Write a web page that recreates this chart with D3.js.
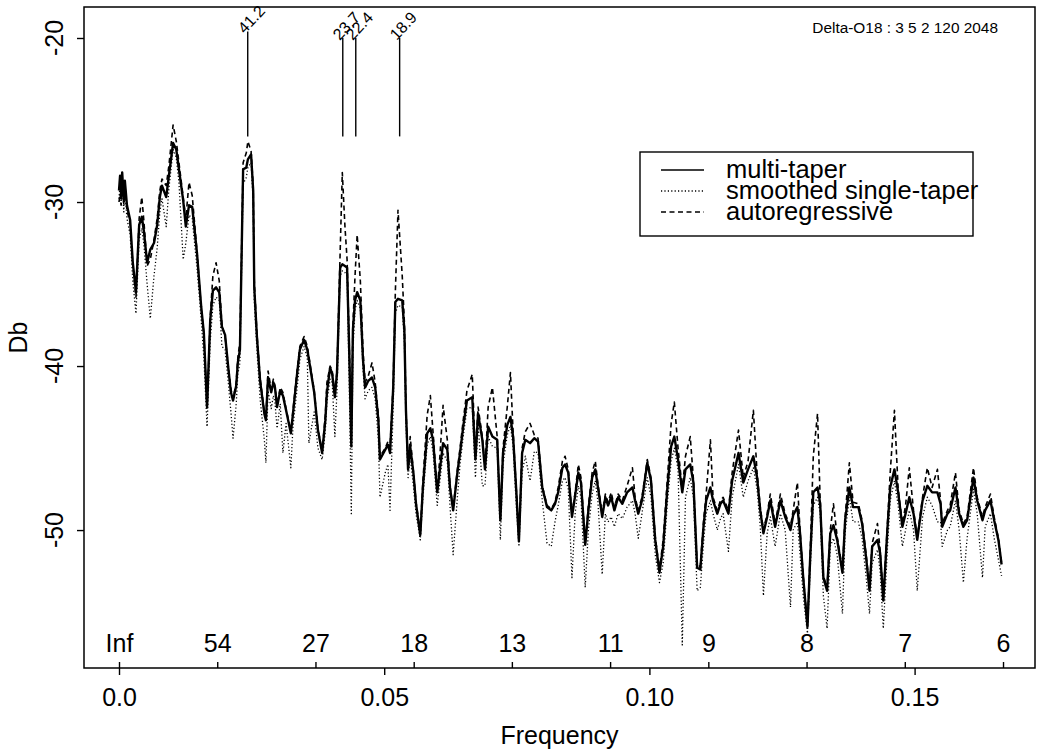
<!DOCTYPE html>
<html>
<head>
<meta charset="utf-8">
<script src="https://cdn.jsdelivr.net/npm/d3@7"></script>
<style>
  body { margin: 0; background: #fff; }
  svg { display: block; font-family: "Liberation Sans", Arial, Helvetica, sans-serif; }
</style>
</head>
<body>
<div id="chart"></div>
<script>
// frequency grid (cycles per unit) shared by the three spectrum estimates
const freq = [0,0.0002,0.0004,0.0006,0.0009,0.0011,0.0015,0.0021,0.0026,0.0032,
  0.0038,0.0043,0.0047,0.0053,0.0059,0.0066,0.0072,0.0077,0.0081,0.0089,
  0.0094,0.0102,0.0108,0.0113,0.0121,0.0126,0.0132,0.0138,0.0147,0.0155,
  0.0160,0.0166,0.0172,0.0177,0.0183,0.0189,0.0194,0.0200,0.0206,0.0211,
  0.0215,0.0221,0.0224,0.0228,0.0234,0.0240,0.0243,0.0249,0.0253,0.0255,
  0.0260,0.0266,0.0274,0.0277,0.0281,0.0287,0.0291,0.0294,0.0298,0.0304,
  0.0309,0.0315,0.0324,0.0328,0.0336,0.0341,0.0349,0.0355,0.0358,0.0368,
  0.0375,0.0383,0.0389,0.0392,0.0398,0.0402,0.0407,0.0411,0.0417,0.0421,
  0.0426,0.0430,0.0434,0.0438,0.0441,0.0445,0.0449,0.0455,0.0460,0.0464,
  0.0470,0.0477,0.0483,0.0489,0.0492,0.0502,0.0507,0.0511,0.0517,0.0521,
  0.0526,0.0534,0.0538,0.0541,0.0545,0.0549,0.0555,0.0560,0.0568,0.0573,
  0.0581,0.0587,0.0592,0.0600,0.0605,0.0611,0.0619,0.0624,0.0630,0.0638,
  0.0643,0.0649,0.0656,0.0666,0.0672,0.0677,0.0685,0.0690,0.0696,0.0704,
  0.0713,0.0719,0.0724,0.0732,0.0738,0.0743,0.0749,0.0754,0.0760,0.0766,
  0.0775,0.0783,0.0790,0.0798,0.0807,0.0815,0.0822,0.0828,0.0836,0.0841,
  0.0847,0.0854,0.0860,0.0866,0.0871,0.0879,0.0885,0.0892,0.0898,0.0903,
  0.0911,0.0917,0.0922,0.0928,0.0934,0.0941,0.0949,0.0958,0.0968,0.0973,
  0.0979,0.0986,0.0996,0.1003,0.1011,0.1019,0.1026,0.1034,0.1041,0.1047,
  0.1054,0.1062,0.1068,0.1077,0.1083,0.1090,0.1096,0.1102,0.1107,0.1115,
  0.1120,0.1128,0.1134,0.1139,0.1149,0.1156,0.1168,0.1177,0.1186,0.1196,
  0.1203,0.1209,0.1215,0.1222,0.1228,0.1237,0.1247,0.1256,0.1266,0.1271,
  0.1279,0.1284,0.1290,0.1298,0.1303,0.1309,0.1317,0.1322,0.1328,0.1335,
  0.1341,0.1347,0.1354,0.1364,0.1369,0.1377,0.1384,0.1394,0.1401,0.1409,
  0.1415,0.1420,0.1430,0.1435,0.1441,0.1449,0.1454,0.1462,0.1469,0.1477,
  0.1483,0.1490,0.1498,0.1505,0.1515,0.1524,0.1533,0.1543,0.1549,0.1552,
  0.1562,0.1567,0.1577,0.1584,0.1592,0.1599,0.1611,0.1618,0.1628,0.1633,
  0.1643,0.1650,0.1658,0.1664];

// multi-taper estimate (Db)
const mtDb = [-29.3,-28.4,-29.6,-28.2,-29.9,-28.7,-30.2,-31.1,-33.7,-35.5,
  -31.4,-30.9,-31.8,-33.7,-32.9,-32.5,-31.4,-29.7,-29.0,-29.7,
  -28.4,-26.4,-26.8,-28.0,-29.9,-31.5,-30.2,-30.3,-33.1,-36.4,
  -38.0,-42.5,-37.2,-35.4,-35.2,-35.5,-37.6,-38.1,-40.1,-41.6,
  -42.1,-41.2,-39.8,-39.0,-28.0,-27.9,-27.4,-27.1,-29.3,-35.2,
  -38.2,-40.9,-42.9,-43.3,-40.7,-41.6,-41.0,-41.3,-42.5,-41.5,
  -41.8,-42.7,-44.1,-42.9,-40.4,-39.0,-38.4,-39.0,-39.6,-41.6,
  -43.9,-45.3,-43.3,-41.6,-40.1,-40.5,-41.9,-40.4,-34.0,-33.8,
  -33.9,-34.0,-39.0,-44.9,-37.8,-36.0,-35.5,-36.0,-39.6,-41.3,
  -40.9,-40.7,-41.3,-43.3,-45.7,-45.1,-44.8,-45.3,-41.3,-36.1,
  -35.9,-36.0,-37.8,-42.7,-46.3,-44.9,-46.5,-48.4,-50.3,-47.4,
  -44.1,-43.8,-44.5,-47.7,-46.3,-44.7,-45.1,-47.4,-48.8,-46.5,
  -45.3,-43.7,-42.1,-41.9,-45.7,-42.9,-44.5,-46.3,-43.7,-44.3,
  -44.5,-49.4,-45.3,-43.6,-43.1,-44.3,-47.6,-50.7,-45.3,-44.5,
  -44.7,-44.4,-44.6,-47.4,-48.6,-48.8,-48.4,-47.7,-46.2,-46.0,
  -46.5,-49.2,-47.9,-46.5,-47.1,-50.9,-48.8,-46.8,-46.3,-47.4,
  -49.2,-48.0,-48.5,-48.0,-48.8,-48.0,-48.4,-47.7,-47.4,-48.2,
  -49.0,-48.2,-45.9,-47.0,-50.6,-52.6,-51.0,-47.4,-44.9,-44.3,
  -45.7,-47.7,-46.3,-46.0,-47.1,-52.3,-52.4,-49.8,-48.2,-47.4,
  -48.2,-49.0,-48.4,-48.2,-49.0,-47.0,-45.3,-47.1,-46.3,-45.5,
  -46.8,-48.8,-50.2,-49.2,-48.2,-49.8,-48.2,-49.2,-50.0,-49.1,
  -48.6,-50.2,-52.9,-55.9,-51.8,-47.7,-47.4,-48.4,-52.9,-53.7,
  -50.2,-49.7,-50.6,-52.6,-49.4,-47.4,-48.6,-48.6,-49.6,-51.8,
  -53.7,-51.0,-50.6,-51.4,-54.3,-49.8,-47.4,-46.3,-47.7,-49.8,
  -49.0,-48.0,-49.0,-50.6,-48.2,-47.3,-47.7,-47.7,-48.4,-49.8,
  -49.0,-48.8,-47.4,-49.0,-49.8,-49.4,-46.8,-48.2,-49.4,-48.8,
  -48.2,-49.4,-50.6,-52.1];

// smoothed single-taper estimate (Db)
const stDb = [-29.8,-28.9,-30.2,-28.8,-30.6,-29.4,-31.0,-32.0,-34.8,-36.8,
  -32.3,-31.6,-32.6,-35.0,-37.1,-34.5,-32.8,-30.6,-29.8,-31.5,
  -29.2,-26.8,-27.3,-28.8,-33.5,-32.5,-30.8,-31.0,-34.0,-37.2,
  -39.5,-43.7,-38.5,-36.3,-35.8,-36.0,-38.8,-39.0,-41.0,-42.8,
  -44.4,-42.3,-40.5,-39.8,-28.9,-28.5,-27.9,-27.6,-30.0,-36.0,
  -39.0,-42.0,-44.5,-45.9,-41.5,-42.6,-41.8,-42.2,-43.8,-42.3,
  -45.3,-43.5,-46.2,-43.7,-41.3,-39.6,-38.8,-39.5,-44.7,-42.8,
  -45.0,-45.7,-44.0,-42.2,-40.8,-41.0,-44.3,-41.5,-34.5,-34.2,
  -34.3,-34.5,-41.0,-49.0,-39.0,-36.6,-36.0,-36.5,-40.2,-42.0,
  -41.5,-41.3,-42.0,-44.5,-48.0,-46.5,-46.0,-48.8,-42.5,-36.8,
  -36.3,-36.4,-38.5,-43.5,-46.8,-45.5,-47.3,-49.0,-50.6,-48.0,
  -44.8,-44.3,-45.2,-48.5,-47.0,-45.3,-45.8,-48.5,-51.5,-48.0,
  -46.0,-44.3,-42.6,-42.5,-46.8,-43.5,-47.3,-47.3,-44.3,-44.9,
  -45.0,-50.6,-46.0,-44.2,-43.6,-44.9,-48.5,-51.0,-46.5,-45.5,
  -47.0,-45.2,-45.3,-48.2,-50.8,-51.0,-49.5,-48.5,-47.0,-46.8,
  -47.5,-52.9,-49.0,-47.3,-48.0,-53.5,-50.0,-47.8,-47.0,-48.3,
  -52.7,-49.0,-49.5,-49.2,-49.8,-49.0,-49.3,-48.6,-48.2,-49.0,
  -50.5,-49.0,-46.8,-48.0,-51.5,-53.2,-52.0,-48.3,-45.8,-45.0,
  -46.3,-57.0,-48.0,-46.8,-48.0,-53.7,-53.5,-50.8,-49.0,-48.2,
  -49.0,-50.0,-49.3,-49.0,-51.3,-48.0,-46.0,-48.0,-47.0,-46.2,
  -47.5,-49.8,-54.0,-50.2,-49.2,-51.0,-49.0,-50.0,-54.7,-50.0,
  -49.5,-51.5,-54.0,-56.3,-52.5,-48.5,-48.0,-49.0,-54.0,-56.0,
  -51.0,-50.5,-51.5,-55.1,-50.2,-48.0,-49.5,-49.5,-50.5,-53.0,
  -55.1,-52.0,-51.2,-52.5,-56.0,-51.0,-48.2,-47.0,-48.5,-51.0,
  -50.0,-48.8,-50.0,-53.7,-49.2,-48.0,-48.5,-49.5,-49.5,-51.0,
  -50.0,-49.8,-48.2,-50.0,-53.2,-50.5,-47.5,-49.0,-52.9,-49.8,
  -49.0,-50.5,-51.8,-52.8];

// autoregressive estimate (Db)
const arDb = [-30.0,-29.5,-30.2,-28.6,-30.1,-28.9,-30.5,-31.3,-33.8,-35.8,
  -31.0,-29.7,-31.2,-33.9,-33.5,-32.3,-31.0,-29.3,-28.6,-29.0,
  -27.8,-25.3,-26.3,-27.6,-29.7,-31.0,-28.8,-29.6,-33.0,-36.5,
  -38.0,-42.7,-37.0,-34.5,-33.7,-34.8,-37.5,-38.2,-40.0,-41.4,
  -42.0,-41.0,-39.5,-38.5,-27.6,-27.0,-26.3,-26.9,-29.0,-34.8,
  -38.0,-40.7,-42.8,-43.2,-40.3,-41.4,-40.8,-41.2,-42.4,-41.3,
  -41.6,-42.6,-44.0,-42.7,-40.2,-38.8,-38.2,-38.8,-39.4,-41.5,
  -43.8,-45.2,-43.0,-41.0,-40.0,-40.3,-41.8,-40.3,-33.0,-28.2,
  -31.5,-33.5,-38.5,-44.5,-37.5,-34.5,-32.0,-34.8,-39.0,-41.0,
  -40.6,-39.8,-41.0,-43.0,-45.5,-45.0,-44.6,-45.0,-41.0,-35.5,
  -30.5,-34.5,-37.3,-42.5,-46.2,-44.3,-46.4,-48.3,-50.2,-47.0,
  -43.0,-41.8,-44.0,-47.6,-45.5,-42.4,-44.5,-47.3,-48.7,-46.3,
  -45.0,-43.3,-41.5,-40.5,-45.5,-42.5,-44.3,-46.2,-42.5,-41.3,
  -44.3,-49.3,-45.0,-42.5,-40.4,-44.0,-47.5,-50.6,-45.0,-44.0,
  -43.5,-44.2,-44.4,-47.3,-48.5,-48.7,-48.3,-47.4,-45.8,-45.5,
  -46.3,-49.0,-47.7,-46.0,-46.8,-50.8,-48.5,-46.5,-45.8,-47.2,
  -49.0,-47.8,-48.3,-47.7,-48.6,-47.8,-48.2,-47.3,-46.2,-48.0,
  -48.8,-48.0,-45.7,-46.8,-50.4,-52.4,-50.6,-46.8,-43.5,-42.2,
  -45.0,-47.5,-45.5,-44.3,-46.9,-52.2,-52.2,-49.5,-47.8,-44.5,
  -48.0,-48.8,-48.2,-48.0,-48.8,-46.5,-43.9,-46.8,-45.8,-42.7,
  -46.5,-48.6,-50.0,-49.0,-47.8,-49.6,-47.8,-49.0,-49.8,-48.8,
  -47.1,-50.0,-52.8,-55.8,-51.5,-45.5,-42.9,-48.2,-52.8,-53.5,
  -50.0,-48.4,-50.4,-52.4,-49.2,-45.9,-48.3,-48.4,-49.4,-51.6,
  -53.5,-50.8,-49.6,-51.2,-54.2,-49.5,-46.5,-42.7,-47.5,-49.6,
  -48.5,-46.2,-48.8,-50.4,-48.0,-46.2,-47.4,-46.3,-48.2,-49.6,
  -48.8,-48.5,-46.5,-48.8,-49.6,-49.2,-46.2,-48.0,-49.2,-48.6,
  -47.8,-49.2,-50.5,-52.0];

const freqTicks = [0, 0.05, 0.10, 0.15];
const freqTickLabels = ["0.0", "0.05", "0.10", "0.15"];
const dbTicks = [-50, -40, -30, -20];

// period axis (k/54 cycles), labelled with rounded periods
const periodFreqs = [0, 0.01852, 0.03704, 0.05556, 0.07407, 0.09259, 0.11111, 0.12963, 0.14815, 0.16667];
const periodLabels = ["Inf", "54", "27", "18", "13", "11", "9", "8", "7", "6"];

// marked peaks
const peakLabels = ["41.2", "23.7", "22.4", "18.9"];
const peakFreqs = [0.02427, 0.04219, 0.04464, 0.05291];
const peakTop = [-19.6, -20, -20, -20];
const peakBottom = [-26, -26, -26, -26];

const seriesNames = ["multi-taper", "smoothed single-taper", "autoregressive"];
const plotTitle = "Delta-O18 : 3 5 2 120 2048";

const width = 1037, height = 750;
const plot = { left: 84, right: 1035, top: 7, bottom: 668 };

const svg = d3.select('#chart').append('svg')
    .attr('width', width)
    .attr('height', height);

svg.append('rect').attr('width', width).attr('height', height).attr('fill', '#fff');

const x = d3.scaleLinear().domain([-0.0066, 0.1727]).range([plot.left, plot.right]);
const y = d3.scaleLinear().domain([-58.41, -18.11]).range([plot.bottom, plot.top]);

// series
const seriesValues = [mtDb, stDb, arDb];
const seriesStyle = [
    { dash: null, width: 2.4 },
    { dash: '1.2,2.2', width: 1.3 },
    { dash: '5,3.5', width: 1.6 }
];

const line = d3.line()
    .x(d => x(d[0]))
    .y(d => y(d[1]));

seriesValues.forEach((vals, i) => {
    const pts = freq.map((f, j) => [f, vals[j]]);
    svg.append('path')
        .datum(pts)
        .attr('fill', 'none')
        .attr('stroke', '#000')
        .attr('stroke-width', seriesStyle[i].width)
        .attr('stroke-linejoin', 'round')
        .attr('stroke-dasharray', seriesStyle[i].dash)
        .attr('d', line);
});

// peak markers
peakFreqs.forEach((f, i) => {
    svg.append('line')
        .attr('x1', x(f)).attr('x2', x(f))
        .attr('y1', y(peakTop[i])).attr('y2', y(peakBottom[i]))
        .attr('stroke', '#000')
        .attr('stroke-width', 1.4);
    svg.append('text')
        .attr('transform', `translate(${x(f) - 3},${y(peakTop[i]) + 3}) rotate(-47)`)
        .attr('font-size', 16)
        .text(peakLabels[i]);
});

// frequency axis (below)
const xAxis = svg.append('g')
    .attr('transform', `translate(0,${plot.bottom})`)
    .call(d3.axisBottom(x)
        .tickValues(freqTicks)
        .tickFormat((d, i) => freqTickLabels[i])
        .tickSize(7)
        .tickPadding(13));
xAxis.select('.domain').remove();
xAxis.selectAll('line').attr('stroke-width', 1.4);
xAxis.selectAll('text').attr('font-size', 25).attr('font-family', null).attr('fill', '#000');

// period axis (inside, pointing up)
const pAxis = svg.append('g')
    .attr('transform', `translate(0,${plot.bottom})`)
    .call(d3.axisTop(x)
        .tickValues(periodFreqs)
        .tickFormat((d, i) => periodLabels[i])
        .tickSize(6)
        .tickPadding(10));
pAxis.select('.domain').remove();
pAxis.selectAll('line').attr('stroke-width', 1.4);
pAxis.selectAll('text').attr('font-size', 25).attr('font-family', null).attr('fill', '#000');

// Db axis
const yAxis = svg.append('g')
    .attr('transform', `translate(${plot.left},0)`)
    .call(d3.axisLeft(y).tickValues(dbTicks).tickSize(7).tickFormat(''));
yAxis.select('.domain').remove();
yAxis.selectAll('line').attr('stroke-width', 1.4);

svg.selectAll('.ylab')
    .data(dbTicks)
    .enter().append('text')
    .attr('class', 'ylab')
    .attr('transform', d => `translate(63,${y(d)}) rotate(-90)`)
    .attr('text-anchor', 'middle')
    .attr('font-size', 25)
    .text(d => d);

// frame
svg.append('rect')
    .attr('x', plot.left).attr('y', plot.top)
    .attr('width', plot.right - plot.left)
    .attr('height', plot.bottom - plot.top)
    .attr('fill', 'none')
    .attr('stroke', '#000')
    .attr('stroke-width', 1.5);

// axis titles
svg.append('text')
    .attr('x', (plot.left + plot.right) / 2)
    .attr('y', 744)
    .attr('text-anchor', 'middle')
    .attr('font-size', 25)
    .text('Frequency');

svg.append('text')
    .attr('transform', `translate(27,${(plot.top + plot.bottom) / 2}) rotate(-90)`)
    .attr('text-anchor', 'middle')
    .attr('font-size', 25)
    .text('Db');

svg.append('text')
    .attr('x', 998)
    .attr('y', 33)
    .attr('text-anchor', 'end')
    .attr('font-size', 15.4)
    .text(plotTitle);

// legend
const legend = svg.append('g');
legend.append('rect')
    .attr('x', 640).attr('y', 152)
    .attr('width', 333).attr('height', 84)
    .attr('fill', '#fff')
    .attr('stroke', '#000')
    .attr('stroke-width', 1.4);

const legendBase = [178, 199, 220];
seriesNames.forEach((name, i) => {
    legend.append('line')
        .attr('x1', 661).attr('x2', 704)
        .attr('y1', legendBase[i] - 8).attr('y2', legendBase[i] - 8)
        .attr('stroke', '#000')
        .attr('stroke-width', i === 0 ? 1.6 : seriesStyle[i].width)
        .attr('stroke-dasharray', seriesStyle[i].dash);
    legend.append('text')
        .attr('x', 726)
        .attr('y', legendBase[i])
        .attr('font-size', 25.5)
        .text(name);
});
</script>
</body>
</html>
